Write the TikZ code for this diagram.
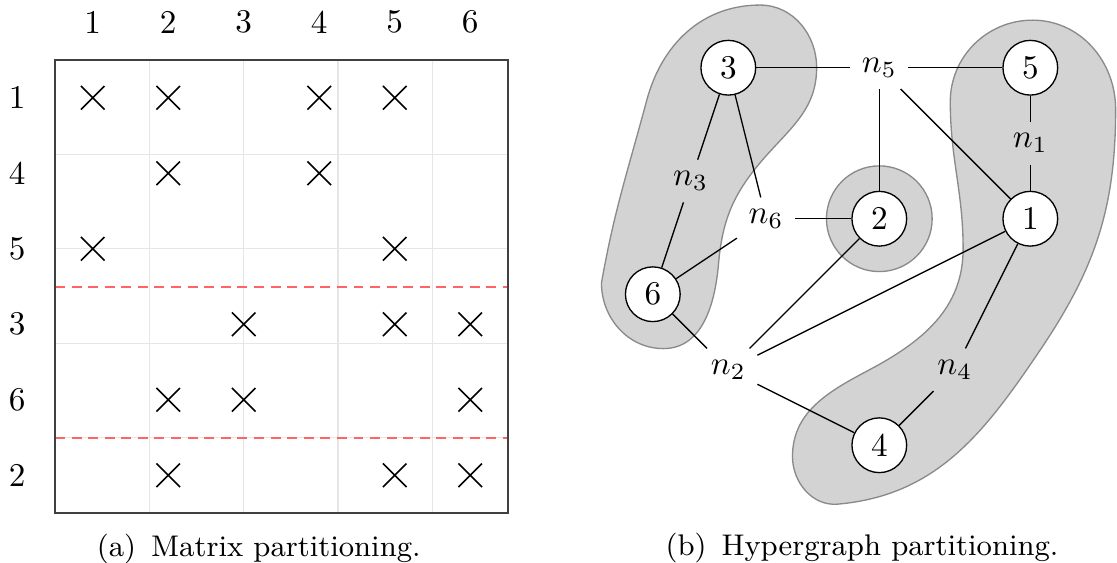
\documentclass[tikz,border=0pt]{standalone}
\usepackage{tikz}
\usetikzlibrary{positioning,shapes.misc,backgrounds}
\definecolor{blobfill}{HTML}{D3D3D3}
\definecolor{blobline}{HTML}{8A8A8A}
\definecolor{cutred}{HTML}{FF6464}
\definecolor{gridgray}{HTML}{E6E6E6}
\definecolor{framegray}{HTML}{404040}
\tikzset{
  vtx/.style={circle,draw,fill=white,minimum size=16.5pt,inner sep=0pt},
  net/.style={inner sep=3.33pt},
  xmark/.style={cross out,draw,line width=0.5pt,minimum size=6.6pt,inner sep=0pt},
  blob/.style={fill=blobfill,draw=blobline,line width=0.4pt},
  cutline/.style={draw=cutred,semithick,densely dashed},
  hedge/.style={draw,thin},
  subcap/.style={anchor=base,font=\small},
}
\begin{document}
\begin{tikzpicture}[x=0.8cm,y=0.8cm]
  \useasboundingbox (-0.728,-6.649) rectangle (14.066,0.795);
  % matrix
  \draw[gridgray] (0,-6) grid (6,0);
  \foreach \y in {3,5} \draw[cutline] (0,-\y) -- (6,-\y);
  \draw[framegray,line width=0.6pt] (0,-6) rectangle (6,0);
  \foreach \c in {1,...,6} \node (c\c) at (\c-0.5,0.5) {\c};
  \foreach \r/\lab in {1/1,2/4,3/5,4/3,5/6,6/2} \node (r\r) at (-0.5,-\r+0.5) {\lab};
  \foreach \r/\c in {1/1,1/2,1/4,1/5,2/2,2/4,3/1,3/5,4/3,4/5,4/6,5/2,5/3,5/6,6/2,6/5,6/6}
    \node[xmark] (x\r\c) at (\c-0.5,-\r+0.5) {};
  \node[subcap] (capa) at (2.70,-6.58) {(a)\enskip Matrix partitioning.};
  % hypergraph
  \begin{scope}[shift={(8.918,-0.102)}]
    \node[vtx] (v3) at (0,0) {3};
    \node[net] (n5) at (2,0) {$n_5$};
    \node[vtx] (v5) at (4,0) {5};
    \node[net] (n1) at (4,-1) {$n_1$};
    \node[vtx] (v1) at (4,-2) {1};
    \node[vtx] (v2) at (2,-2) {2};
    \node[net] (n6) at (0.5,-2) {$n_6$};
    \node[net] (n3) at (-0.5,-1.5) {$n_3$};
    \node[vtx] (v6) at (-1,-3) {6};
    \node[net] (n2) at (0,-4) {$n_2$};
    \node[net] (n4) at (3,-4) {$n_4$};
    \node[vtx] (v4) at (2,-5) {4};
    \foreach \a/\b in {n5/v3,n5/v5,n5/v2,n5/v1,n1/v5,n1/v1,n3/v3,n3/v6,n6/v3,n6/v2,n6/v6,
      n2/v6,n2/v2,n2/v1,n2/v4,n4/v1,n4/v4} \draw[hedge] (\a)--(\b);
    \begin{scope}[on background layer]
      \draw[blob] (0.42,0.83) to[out=0,in=90] (1.17,0.0) to[out=-90,in=50] (0.42,-1.26)
        to[out=230,in=85] (-0.13,-2.6) to[out=-95,in=0] (-0.86,-3.72)
        to[out=180,in=-90] (-1.68,-2.85) to[out=80,in=255] (-1.08,-0.43)
        to[out=75,in=180] cycle;
      \draw[blob] (4.03,0.63) to[out=0,in=90] (5.13,-0.55) to[out=-90,in=56] (4.13,-3.74)
        to[out=236,in=5] (1.45,-5.78) to[out=185,in=-90] (0.85,-5.15)
        to[out=90,in=208] (1.87,-4.0) to[out=28,in=-90] (3.11,-2.4)
        to[out=90,in=-90] (2.94,-0.45) to[out=90,in=180] cycle;
      \draw[blob] (v2) circle[radius=0.7];
    \end{scope}
  \end{scope}
  \node[subcap] (capb) at (10.69,-6.56) {(b)\enskip Hypergraph partitioning.};
\end{tikzpicture}
\end{document}
